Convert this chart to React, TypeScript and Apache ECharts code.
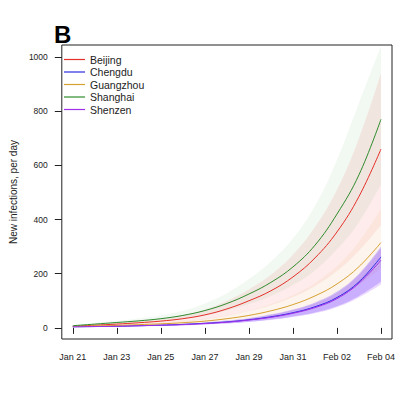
import React, { useEffect, useRef } from "react";
import * as echarts from "echarts";

const dates = ["Jan 21","Jan 22","Jan 23","Jan 24","Jan 25","Jan 26","Jan 27","Jan 28","Jan 29","Jan 30","Jan 31","Feb 01","Feb 02","Feb 03","Feb 04"];
const yTicks = [0, 200, 400, 600, 800, 1000];

const cities = ["Beijing", "Chengdu", "Guangzhou", "Shanghai", "Shenzen"];
const beijing = [6, 10, 14, 19, 25, 34, 48, 70, 100, 137, 188, 258, 354, 485, 660];
const chengdu = [4, 5, 6, 8, 10, 13, 17, 22, 30, 41, 56, 78, 112, 170, 262];
const guangzhou = [5, 7, 9, 12, 15, 19, 25, 34, 46, 63, 86, 118, 162, 226, 315];
const shanghai = [8, 14, 20, 26, 34, 46, 64, 90, 125, 168, 225, 305, 420, 565, 770];
const shenzen = [4, 5, 6, 8, 10, 12, 16, 21, 29, 39, 54, 75, 108, 165, 250];

// spread of simulated trajectories (low / high envelope)
const shanghaiLo = [6, 10, 15, 19, 25, 33, 46, 64, 88, 118, 158, 212, 290, 390, 530];
const shanghaiHi = [10, 18, 26, 35, 46, 63, 90, 128, 180, 245, 330, 450, 620, 830, 1040];
const beijingLo = [4, 7, 10, 13, 17, 22, 31, 44, 62, 84, 114, 155, 210, 285, 380];
const beijingHi = [8, 13, 19, 26, 35, 48, 68, 100, 142, 196, 270, 372, 510, 700, 940];
const guangzhouLo = [4, 5, 7, 9, 11, 14, 18, 24, 32, 44, 60, 82, 112, 158, 220];
const guangzhouHi = [6, 9, 12, 16, 20, 26, 34, 46, 63, 87, 120, 165, 228, 318, 440];
const chengduLo = [3, 4, 5, 6, 8, 10, 13, 17, 23, 31, 42, 57, 80, 118, 170];
const chengduHi = [5, 6, 8, 10, 12, 15, 20, 27, 36, 50, 68, 94, 134, 200, 300];
const shenzenLo = [3, 4, 5, 6, 7, 9, 12, 16, 22, 29, 40, 54, 76, 112, 160];
const shenzenHi = [5, 6, 8, 10, 12, 15, 19, 26, 35, 48, 66, 91, 130, 196, 295];

const colors: Record<string, string> = {
  Beijing: "#e5302a",
  Chengdu: "#2a2ae0",
  Guangzhou: "#d8a030",
  Shanghai: "#2e8b2e",
  Shenzen: "#a030e8",
};

const bandColors: Record<string, string> = {
  Beijing: "rgba(240,120,110,0.14)",
  Chengdu: "rgba(90,40,255,0.24)",
  Guangzhou: "rgba(240,190,140,0.16)",
  Shanghai: "rgba(110,180,110,0.09)",
  Shenzen: "rgba(150,60,255,0.2)",
};

const means: Record<string, number[]> = {
  Beijing: beijing,
  Chengdu: chengdu,
  Guangzhou: guangzhou,
  Shanghai: shanghai,
  Shenzen: shenzen,
};
const bands: Record<string, [number[], number[]]> = {
  Shanghai: [shanghaiLo, shanghaiHi],
  Beijing: [beijingLo, beijingHi],
  Guangzhou: [guangzhouLo, guangzhouHi],
  Chengdu: [chengduLo, chengduHi],
  Shenzen: [shenzenLo, shenzenHi],
};

const FONT = "'Liberation Sans', Arial, sans-serif";

export default function App() {
  const ref = useRef<HTMLDivElement>(null);
  useEffect(() => {
    document.body.style.margin = "0";
    if (!ref.current) return;
    const chart = echarts.init(ref.current, undefined, { renderer: "svg" });
    const series: any[] = [];
    Object.keys(bands).forEach((c) => {
      const [lo, hi] = bands[c];
      series.push({
        name: c + "_lo",
        type: "line",
        stack: "band_" + c,
        data: lo,
        symbol: "none",
        smooth: 0.4,
        lineStyle: { opacity: 0 },
        silent: true,
        z: 1,
      });
      series.push({
        name: c + "_band",
        type: "line",
        stack: "band_" + c,
        data: hi.map((v, i) => v - lo[i]),
        symbol: "none",
        smooth: 0.4,
        lineStyle: { opacity: 0 },
        areaStyle: { color: bandColors[c], opacity: 1 },
        silent: true,
        z: 1,
      });
    });
    cities.forEach((c) => {
      series.push({
        name: c,
        type: "line",
        data: means[c],
        symbol: "none",
        smooth: 0.4,
        color: colors[c],
        lineStyle: { width: 1, color: colors[c] },
        z: 3,
      });
    });
    chart.setOption({
      animation: false,
      backgroundColor: "#fff",
      title: {
        text: "B",
        left: 49,
        top: 17,
        textStyle: { fontFamily: FONT, fontSize: 24, fontWeight: "bold", color: "#000" },
      },
      legend: {
        data: cities.map((c) => ({ name: c, icon: "rect" })),
        orient: "vertical",
        left: 59,
        top: 49,
        itemWidth: 21,
        itemHeight: 1.2,
        itemGap: 1.5,
        textStyle: { fontFamily: FONT, fontSize: 10.5, color: "#222", lineHeight: 10 },
      },
      grid: {
        left: 53,
        right: 22,
        top: 45,
        bottom: 55,
        show: true,
        borderColor: "#222",
        borderWidth: 1,
        backgroundColor: "transparent",
      },
      xAxis: {
        type: "category",
        data: dates,
        boundaryGap: true,
        axisLine: { show: false },
        axisTick: { show: true, interval: 1, alignWithLabel: true, length: 6, lineStyle: { color: "#222" } },
        axisLabel: { interval: 1, margin: 13, fontFamily: FONT, fontSize: 9, color: "#222" },
        splitLine: { show: false },
      },
      yAxis: {
        type: "value",
        min: -41,
        max: 1044,
        name: "New infections, per day",
        nameLocation: "middle",
        nameGap: 43,
        nameTextStyle: { fontFamily: FONT, fontSize: 10, color: "#222" },
        axisLine: { show: false },
        axisTick: { show: true, length: 7, customValues: yTicks, lineStyle: { color: "#222" } },
        axisLabel: {
          margin: 14,
          fontFamily: FONT,
          fontSize: 8.5,
          color: "#222",
          customValues: yTicks,
          formatter: (v: number) => String(v),
        },
        splitLine: { show: false },
      },
      series,
    });
    return () => chart.dispose();
  }, []);
  return <div ref={ref} style={{ width: 414, height: 394 }} />;
}
